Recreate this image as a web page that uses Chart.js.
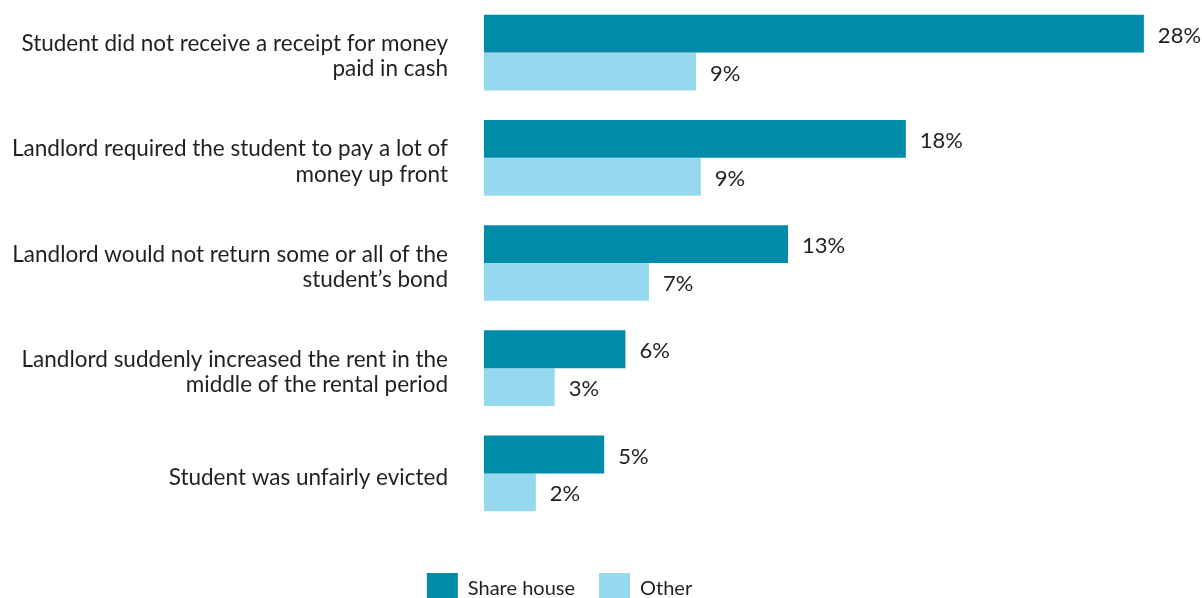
<!DOCTYPE html>
<html>
<head>
<meta charset="utf-8">
<script src="https://cdn.jsdelivr.net/npm/chart.js@4"></script>
<style>
  html, body { margin: 0; padding: 0; background: #fff; }
  #wrap { width: 1202px; height: 598px; overflow: hidden; }
  #box { width: 1202px; height: 614px; position: relative; }
</style>
</head>
<body>
<div id="wrap"><div id="box"><canvas id="myChart"></canvas></div></div>
<script>
const categories = [
    ['Student did not receive a receipt for money', 'paid in cash'],
    ['Landlord required the student to pay a lot of', 'money up front'],
    ['Landlord would not return some or all of the', 'student\u2019s bond'],
    ['Landlord suddenly increased the rent in the', 'middle of the rental period'],
    ['Student was unfairly evicted']
];
const shareHouse = [28, 17.9, 12.9, 6, 5.1];
const other = [9, 9.2, 7, 3, 2.2];

const textColor = '#231f20';
const fontFamily = 'Lato, "Open Sans", sans-serif';

const valueLabels = {
    id: 'valueLabels',
    afterLayout(chart) {
        // the legend sits a little left of the canvas centre
        chart.legend.left -= 36;
        chart.legend.right -= 36;
    },
    afterDatasetsDraw(chart) {
        const ctx = chart.ctx;
        ctx.save();
        ctx.font = '22px ' + fontFamily;
        ctx.fillStyle = textColor;
        ctx.textBaseline = 'middle';
        ctx.textAlign = 'left';
        chart.data.datasets.forEach((ds, i) => {
            chart.getDatasetMeta(i).data.forEach((bar, j) => {
                ctx.fillText(Math.round(ds.data[j]) + '%', bar.x + 14, bar.y + 2);
            });
        });
        ctx.restore();
    }
};

const data = {
    labels: categories,
    datasets: [
        {
            label: 'Share house',
            data: shareHouse,
            backgroundColor: '#008ca8',
            categoryPercentage: 0.72,
            barPercentage: 1
        },
        {
            label: 'Other',
            data: other,
            backgroundColor: '#96d8ed',
            categoryPercentage: 0.72,
            barPercentage: 1
        }
    ]
};

const config = {
    type: 'bar',
    data: data,
    options: {
        indexAxis: 'y',
        responsive: true,
        maintainAspectRatio: false,
        animation: false,
        layout: {
            padding: { top: 0, right: 11, left: 0, bottom: 0 }
        },
        plugins: {
            tooltip: { enabled: false },
            legend: {
                position: 'bottom',
                labels: {
                    boxWidth: 31,
                    boxHeight: 31,
                    padding: 24,
                    color: textColor,
                    font: { size: 20, family: fontFamily }
                }
            }
        },
        scales: {
            x: {
                min: 0,
                max: 30,
                grid: { display: false, drawTicks: false },
                border: { display: false },
                ticks: { display: false },
                afterFit: (s) => { s.height = 23; }
            },
            y: {
                grid: { display: false, drawTicks: false },
                border: { display: false },
                ticks: {
                    padding: 36,
                    labelOffset: 4,
                    color: textColor,
                    font: { size: 22.5, family: fontFamily, lineHeight: 1.12 }
                },
                afterFit: (s) => {
                    s.width = 484;
                    s.paddingTop = 0;
                    s.paddingBottom = 0;
                }
            }
        }
    },
    plugins: [valueLabels]
};

const ctx = document.getElementById('myChart')?.getContext('2d');
new Chart(ctx, config);
</script>
</body>
</html>
